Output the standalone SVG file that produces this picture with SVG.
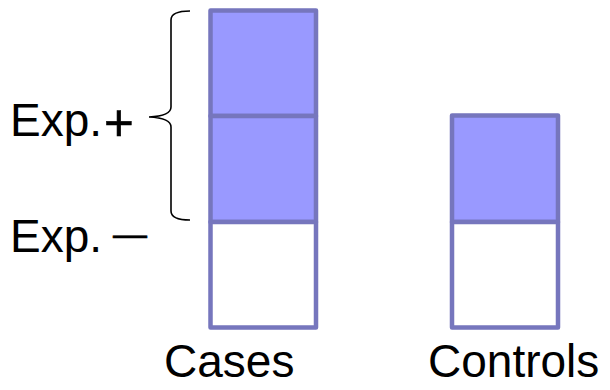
<svg xmlns="http://www.w3.org/2000/svg" width="610" height="390" viewBox="0 0 610 390">
  <style>
    .cell { stroke: #7676bd; stroke-width: 4.5; stroke-linejoin: round; }
    .exp { fill: #9999ff; }
    .unexp { fill: #ffffff; }
    .lbl { font-family: "Liberation Sans", Arial, sans-serif; font-size: 46px; fill: #000000; }
    .sym { stroke: #000000; stroke-width: 0.6; }
    .brace { fill: none; stroke: #000000; stroke-width: 1.6; }
  </style>
  <rect width="610" height="390" fill="#ffffff"/>

  <!-- Cases column: two exposed cells over one unexposed -->
  <g id="cases">
    <rect class="cell exp" x="210.5" y="10.5" width="105.5" height="105.5"/>
    <rect class="cell exp" x="210.5" y="116" width="105.5" height="106"/>
    <rect class="cell unexp" x="210.5" y="222" width="105.5" height="105.5"/>
    <text class="lbl" x="164" y="377">Cases</text>
  </g>

  <!-- Controls column: one exposed cell over one unexposed -->
  <g id="controls">
    <rect class="cell exp" x="452" y="115.5" width="106" height="106.5"/>
    <rect class="cell unexp" x="452" y="222" width="106" height="105.5"/>
    <text class="lbl" x="428" y="377">Controls</text>
  </g>

  <!-- Exposure labels and brace -->
  <g id="exposure">
    <path class="brace" d="M190,11 Q171,11 171,20 L171,107 Q171,116 149,117 Q171,118 171,127 L171,211 Q171,220 190,220"/>
    <text class="lbl" x="10" y="136">Exp.<tspan class="sym" x="104" dy="5" font-size="51">+</tspan></text>
    <text class="lbl" x="10" y="251.5">Exp.<tspan class="sym" x="113" dy="-6.5" font-size="34">—</tspan></text>
  </g>
</svg>
